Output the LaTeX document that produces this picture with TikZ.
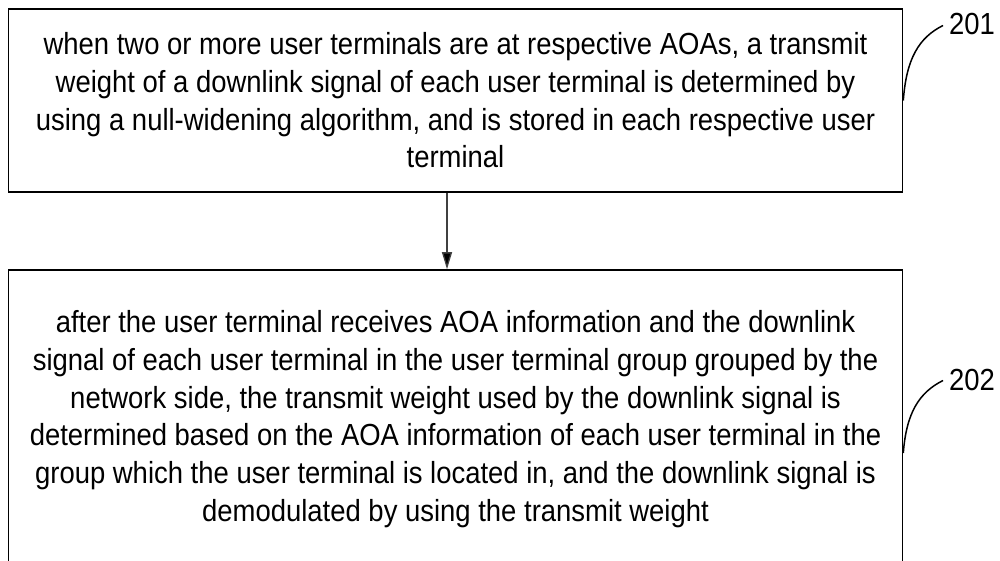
\documentclass[tikz,border=0pt]{standalone}
\usepackage{fontspec}
\setmainfont{Liberation Sans}[FakeStretch=0.9]
\usetikzlibrary{arrows.meta}
\begin{document}
\begin{tikzpicture}[x=1pt,y=-1pt,
  box/.style={draw=black,line width=1.6pt,inner sep=0pt,align=center,
    font=\fontsize{30.5}{37.7}\selectfont},
  lbl/.style={inner sep=0pt,anchor=base west,font=\fontsize{30.5}{37}\selectfont},
  leader/.style={line width=1.5pt},
  flow/.style={line width=1.3pt,draw=black!75,-{Triangle[length=17pt,width=10pt,fill=black]}}]
\useasboundingbox (0,0) rectangle (1000,561);
\clip (0,0) rectangle (1000,561);
\node[box,minimum width=894pt,minimum height=183pt] (b1) at (455.5,100.5)
  {when two or more user terminals are at respective AOAs, a transmit\\
   weight of a downlink signal of each user terminal is determined by\\
   using a null-widening algorithm, and is stored in each respective user\\
   terminal};
\node[box,minimum width=894pt,minimum height=298pt] (b2) at (455.5,419)
  {after the user terminal receives AOA information and the downlink\\
   signal of each user terminal in the user terminal group grouped by the\\
   network side, the transmit weight used by the downlink signal is\\
   determined based on the AOA information of each user terminal in the\\
   group which the user terminal is located in, and the downlink signal is\\
   demodulated by using the transmit weight};
\draw[flow] ([xshift=-8.5pt]b1.south) -- ([xshift=-8.5pt]b2.north);
\node[lbl] (l1) at (949,35) {201};
\node[lbl] (l2) at (949,390) {202};
\coordinate (s1) at (b1.east);
\coordinate (s2) at ([yshift=-34pt]b2.east);
\coordinate (e1) at ([xshift=-6pt,yshift=-1pt]l1.west);
\coordinate (e2) at ([xshift=-6pt,yshift=-1pt]l2.west);
\draw[leader] (s1) .. controls +(3,-42) and +(-24,12) .. (e1);
\draw[leader] (s2) .. controls +(3,-40) and +(-24,12) .. (e2);
\end{tikzpicture}
\end{document}
